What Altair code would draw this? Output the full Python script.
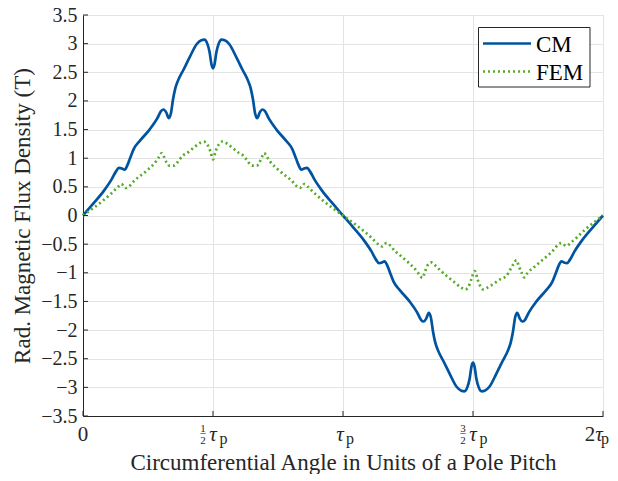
import altair as alt
import pandas as pd

# ---------------- data ----------------
cm_x = [0.000, 0.040, 0.080, 0.110, 0.127, 0.138, 0.150, 0.160, 0.170, 0.181,
        0.195, 0.220, 0.256, 0.285, 0.300, 0.310, 0.320, 0.330, 0.338, 0.346,
        0.355, 0.365, 0.386, 0.410, 0.437, 0.455, 0.467, 0.478, 0.487, 0.494,
        0.500, 0.506, 0.513, 0.522, 0.533, 0.545, 0.563, 0.590, 0.614, 0.635,
        0.645, 0.654, 0.662, 0.670, 0.680, 0.690, 0.700, 0.715, 0.744, 0.780,
        0.805, 0.819, 0.830, 0.840, 0.850, 0.862, 0.873, 0.890, 0.920, 0.960,
        1.000, 1.040, 1.080, 1.110, 1.127, 1.138, 1.150, 1.160, 1.170, 1.181,
        1.195, 1.220, 1.256, 1.285, 1.300, 1.310, 1.320, 1.330, 1.338, 1.346,
        1.355, 1.365, 1.386, 1.410, 1.437, 1.455, 1.467, 1.478, 1.487, 1.494,
        1.500, 1.506, 1.513, 1.522, 1.533, 1.545, 1.563, 1.590, 1.614, 1.635,
        1.645, 1.654, 1.662, 1.670, 1.680, 1.690, 1.700, 1.715, 1.744, 1.780,
        1.805, 1.819, 1.830, 1.840, 1.850, 1.862, 1.873, 1.890, 1.920, 1.960,
        2.000]
cm_y = [0.00, 0.21, 0.43, 0.63, 0.77, 0.83, 0.82, 0.80, 0.87, 1.00,
        1.16, 1.31, 1.50, 1.69, 1.82, 1.85, 1.80, 1.70, 1.78, 2.02,
        2.22, 2.35, 2.54, 2.76, 2.99, 3.06, 3.07, 3.00, 2.85, 2.64,
        2.57, 2.64, 2.85, 3.00, 3.07, 3.06, 2.99, 2.76, 2.54, 2.35,
        2.22, 2.02, 1.78, 1.70, 1.80, 1.85, 1.82, 1.69, 1.50, 1.31,
        1.16, 1.00, 0.87, 0.80, 0.82, 0.83, 0.77, 0.63, 0.43, 0.21,
        0.00, -0.21, -0.43, -0.63, -0.77, -0.83, -0.82, -0.80, -0.87, -1.00,
        -1.16, -1.31, -1.50, -1.69, -1.82, -1.85, -1.80, -1.70, -1.78, -2.02,
        -2.22, -2.35, -2.54, -2.76, -2.99, -3.06, -3.07, -3.00, -2.85, -2.64,
        -2.57, -2.64, -2.85, -3.00, -3.07, -3.06, -2.99, -2.76, -2.54, -2.35,
        -2.22, -2.02, -1.78, -1.70, -1.80, -1.85, -1.82, -1.69, -1.50, -1.31,
        -1.16, -1.00, -0.87, -0.80, -0.82, -0.83, -0.77, -0.63, -0.43, -0.21,
        0.00]

fem_x = [0.000, 0.040, 0.077, 0.110, 0.135, 0.148, 0.157, 0.166, 0.200, 0.244,
         0.280, 0.295, 0.303, 0.312, 0.322, 0.332, 0.350, 0.370, 0.385, 0.400,
         0.430, 0.452, 0.465, 0.478, 0.490, 0.500, 0.510, 0.522, 0.535, 0.548,
         0.570, 0.600, 0.615, 0.630, 0.650, 0.668, 0.678, 0.688, 0.697, 0.705,
         0.720, 0.756, 0.800, 0.834, 0.843, 0.852, 0.865, 0.890, 0.923, 0.960,
         1.000, 1.040, 1.077, 1.110, 1.135, 1.150, 1.158, 1.167, 1.200, 1.244,
         1.280, 1.295, 1.305, 1.314, 1.324, 1.340, 1.352, 1.370, 1.400, 1.430,
         1.455, 1.470, 1.482, 1.493, 1.507, 1.518, 1.530, 1.540, 1.555, 1.580,
         1.610, 1.628, 1.645, 1.657, 1.667, 1.676, 1.687, 1.697, 1.710, 1.730,
         1.756, 1.800, 1.840, 1.850, 1.860, 1.875, 1.900, 1.930, 1.965, 2.000]
fem_y = [0.00, 0.13, 0.26, 0.39, 0.50, 0.55, 0.51, 0.48, 0.62, 0.78,
         0.94, 1.04, 1.09, 1.02, 0.92, 0.87, 0.87, 0.97, 1.05, 1.09,
         1.20, 1.27, 1.29, 1.24, 1.12, 0.98, 1.12, 1.24, 1.29, 1.27,
         1.20, 1.09, 1.05, 0.97, 0.87, 0.87, 0.92, 1.02, 1.09, 1.04,
         0.94, 0.78, 0.62, 0.48, 0.51, 0.55, 0.50, 0.39, 0.26, 0.13,
         0.00, -0.13, -0.26, -0.39, -0.50, -0.54, -0.51, -0.48, -0.62, -0.79,
         -0.95, -1.04, -1.09, -1.00, -0.88, -0.82, -0.86, -0.94, -1.06, -1.17,
         -1.26, -1.29, -1.25, -1.12, -0.97, -1.12, -1.25, -1.29, -1.26, -1.19,
         -1.10, -1.06, -0.93, -0.84, -0.78, -0.88, -1.00, -1.08, -1.00, -0.92,
         -0.82, -0.65, -0.48, -0.51, -0.53, -0.48, -0.38, -0.25, -0.12, 0.00]

series_names = ["CM", "FEM"]
series_colors = ["#00549F", "#57AB27"]

x_ticks = [0, 0.5, 1, 1.5, 2]
y_ticks = [-3.5, -3, -2.5, -2, -1.5, -1, -0.5, 0, 0.5, 1, 1.5, 2, 2.5, 3, 3.5]
frac_num = ["1", "3"]      # numerators at 0.5 and 1.5 pole pitch
frac_den = ["2", "2"]      # denominators
coef_labels = ["0", "2"]   # plain coefficients at 0 and 2
tau = "τ"
sub_p = "p"

x_title = "Circumferential Angle in Units of a Pole Pitch"
y_title = "Rad. Magnetic Flux Density (T)"

# ---------------- styling ----------------
W, H = 520, 401
FONT = "Liberation Serif"
INK = "#262626"

xs = alt.Scale(domain=[0, 2], nice=False, zero=False)
ys = alt.Scale(domain=[-3.5, 3.5], nice=False, zero=False)

cm_df = pd.DataFrame({"x": cm_x, "y": cm_y})
fem_df = pd.DataFrame({"x": fem_x, "y": fem_y})

x_axis = alt.Axis(values=x_ticks, labels=False, ticks=False, grid=True,
                  title=x_title, titlePadding=35)
y_axis = alt.Axis(values=y_ticks, format=".2~f", ticks=False, grid=True,
                  labelPadding=6, labelOverlap=False, labelFlush=False,
                  labelBaseline="middle",
                  title=y_title, titlePadding=6)


def X():
    return alt.X("x:Q", scale=xs, axis=x_axis)


def Y():
    return alt.Y("y:Q", scale=ys, axis=y_axis)


cm_line = alt.Chart(cm_df).mark_line(
    color=series_colors[0], strokeWidth=2.7, interpolate="monotone"
).encode(x=X(), y=Y())

fem_line = alt.Chart(fem_df).mark_line(
    color=series_colors[1], strokeWidth=2.7, strokeDash=[2, 3],
    interpolate="monotone"
).encode(x=X(), y=Y())

# inward ticks
ytick = alt.Chart(pd.DataFrame({"y": y_ticks})).mark_rule(
    color=INK, strokeWidth=1
).encode(y=Y(), x=alt.value(0), x2=alt.value(5))
xtick = alt.Chart(pd.DataFrame({"x": x_ticks})).mark_rule(
    color=INK, strokeWidth=1
).encode(x=X(), y=alt.value(H), y2=alt.value(H - 5))


def tick_text(vals, texts, dx, ypos, size, italic=False):
    df = pd.DataFrame({"x": vals, "t": texts})
    kw = dict(dx=dx, align="center", baseline="alphabetic", font=FONT,
              fontSize=size, color=INK)
    if italic:
        kw["fontStyle"] = "italic"
    return alt.Chart(df).mark_text(**kw).encode(
        x=X(), y=alt.value(ypos), text="t:N")


frac_pos = [x_ticks[1], x_ticks[3]]
labels = [
    tick_text([x_ticks[0]], [coef_labels[0]], 0, H + 25, 21),
    tick_text([x_ticks[4]], [coef_labels[1]], -13, H + 25, 21),
    tick_text(frac_pos, frac_num, -10, H + 16, 11),
    tick_text(frac_pos, ["–", "–"], -10, H + 20, 11),
    tick_text(frac_pos, frac_den, -10, H + 28, 11),
    tick_text(frac_pos, [tau, tau], 0, H + 25, 21, italic=True),
    tick_text([x_ticks[2]], [tau], -3, H + 25, 21, italic=True),
    tick_text([x_ticks[4]], [tau], -4, H + 25, 21, italic=True),
    tick_text(frac_pos, [sub_p, sub_p], 10.5, H + 28, 16),
    tick_text([x_ticks[2]], [sub_p], 7, H + 28, 16),
    tick_text([x_ticks[4]], [sub_p], 2, H + 28, 16),
]

# legend (drawn by hand, MATLAB-like box)
one = alt.Data(values=[{"k": 0}])
leg_box = alt.Chart(one).mark_rect(
    fill="white", stroke=INK, strokeWidth=1
).encode(x=alt.value(395.5), x2=alt.value(507), y=alt.value(12.5), y2=alt.value(72))
leg_cm = alt.Chart(one).mark_rule(
    color=series_colors[0], strokeWidth=2.7
).encode(x=alt.value(400), x2=alt.value(448), y=alt.value(28.5))
leg_fem = alt.Chart(one).mark_rule(
    color=series_colors[1], strokeWidth=2.7, strokeDash=[2, 3]
).encode(x=alt.value(400), x2=alt.value(448), y=alt.value(56.5))
leg_t1 = alt.Chart(alt.Data(values=[{"t": series_names[0]}])).mark_text(
    align="left", baseline="middle", font=FONT, fontSize=23, color="black"
).encode(x=alt.value(453), y=alt.value(29.5), text="t:N")
leg_t2 = alt.Chart(alt.Data(values=[{"t": series_names[1]}])).mark_text(
    align="left", baseline="middle", font=FONT, fontSize=23, color="black"
).encode(x=alt.value(453), y=alt.value(57.5), text="t:N")

chart = alt.layer(
    cm_line, fem_line, ytick, xtick, *labels,
    leg_box, leg_cm, leg_fem, leg_t1, leg_t2
).properties(
    width=W, height=H,
    padding={"left": 75, "top": 7, "right": 7, "bottom": 58},
    autosize=alt.AutoSizeParams(type="none"),
).configure_view(stroke=None).configure_axis(
    domainColor=INK, domainWidth=1, gridColor="#e3e3e3", gridWidth=1,
    labelFont=FONT, labelFontSize=20, labelColor=INK, labelOverlap=False,
    titleFont=FONT, titleFontSize=23, titleFontWeight="normal", titleColor=INK,
)

chart.save("out.html", embed_options={"renderer": "svg", "actions": False})
